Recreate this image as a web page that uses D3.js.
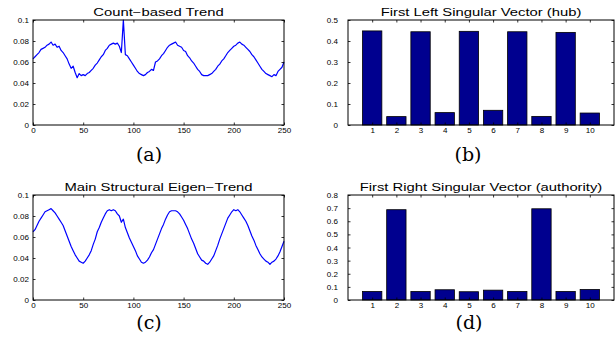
<!DOCTYPE html>
<html><head><meta charset="utf-8">
<script src="https://cdn.jsdelivr.net/npm/d3@7"></script>
<style>
html,body{margin:0;padding:0;background:#fff;}
svg{display:block;}
text{font-family:"Liberation Sans",Arial,Helvetica,sans-serif;fill:#000;}
.caption{font-family:"DejaVu Serif",serif;}
</style></head><body>
<svg id="fig" width="615" height="346"></svg>
<script>
// Sampled every 2 time steps, 0..250
const timeSteps = d3.range(0, 251, 2);

const countTrend = [
  0.063,0.065,0.067,0.069,0.072,0.073,0.074,0.076,0.077,0.079,
  0.076,0.077,0.074,0.075,0.071,0.069,0.066,0.063,0.058,0.054,
  0.056,0.050,0.045,0.049,0.047,0.048,0.047,0.049,0.050,0.052,
  0.054,0.057,0.059,0.062,0.065,0.067,0.071,0.073,0.076,0.077,
  0.078,0.077,0.078,0.075,0.069,0.100,0.067,0.066,0.063,0.060,
  0.057,0.054,0.051,0.049,0.048,0.047,0.048,0.050,0.051,0.053,
  0.052,0.060,0.061,0.063,0.066,0.068,0.071,0.074,0.076,0.077,
  0.078,0.079,0.076,0.075,0.074,0.071,0.070,0.066,0.064,0.061,
  0.059,0.056,0.053,0.051,0.048,0.047,0.047,0.047,0.048,0.049,
  0.051,0.053,0.056,0.058,0.061,0.063,0.066,0.069,0.071,0.073,
  0.075,0.076,0.078,0.079,0.077,0.076,0.074,0.072,0.070,0.067,
  0.065,0.062,0.059,0.056,0.053,0.051,0.049,0.048,0.047,0.046,
  0.048,0.047,0.051,0.053,0.055,0.060
];

const eigenTrend = [
  0.065,0.067,0.071,0.075,0.078,0.081,0.084,0.085,0.086,0.087,
  0.085,0.083,0.080,0.077,0.074,0.071,0.066,0.061,0.056,0.051,
  0.047,0.043,0.040,0.037,0.036,0.035,0.037,0.040,0.043,0.047,
  0.053,0.058,0.065,0.069,0.074,0.078,0.082,0.085,0.086,0.085,
  0.086,0.085,0.082,0.080,0.074,0.077,0.069,0.064,0.059,0.055,
  0.051,0.047,0.042,0.039,0.036,0.035,0.036,0.038,0.041,0.045,
  0.048,0.053,0.058,0.063,0.068,0.072,0.077,0.081,0.084,0.085,
  0.085,0.085,0.084,0.082,0.079,0.076,0.072,0.068,0.063,0.058,
  0.054,0.049,0.044,0.041,0.038,0.037,0.035,0.034,0.036,0.039,
  0.042,0.047,0.052,0.058,0.063,0.068,0.073,0.078,0.081,0.084,
  0.086,0.085,0.086,0.084,0.081,0.078,0.075,0.071,0.066,0.061,
  0.057,0.052,0.048,0.044,0.041,0.039,0.037,0.036,0.034,0.036,
  0.037,0.039,0.042,0.046,0.051,0.056
];

const nodeIds = [1,2,3,4,5,6,7,8,9,10];
const hubScores = [0.448,0.040,0.444,0.059,0.446,0.070,0.444,0.041,0.441,0.057];
const authorityScores = [0.065,0.688,0.065,0.078,0.063,0.075,0.065,0.695,0.065,0.080];

const trendXTicks = [0,50,100,150,200,250];
const trendYTicks = [0,0.02,0.04,0.06,0.08,0.1];
const hubYTicks = [0,0.1,0.2,0.3,0.4,0.5];
const authorityYTicks = [0,0.1,0.2,0.3,0.4,0.5,0.6,0.7,0.8];

const svg = d3.select("#fig");
const fmt = v => v === 0 ? "0" : String(+v.toFixed(2));
const TICK = 2.5, LABEL_SX = 1.15, TITLE_SX = 1.48;

function frame(g, box, x, y, xTicks, yTicks, xFmt, yPad) {
  const bottom = g.append("g").attr("transform", `translate(0,${box.b})`)
    .call(d3.axisBottom(x).tickValues(xTicks).tickSizeInner(-TICK).tickSizeOuter(0).tickPadding(3).tickFormat(xFmt));
  const left = g.append("g").attr("transform", `translate(${box.l},0)`)
    .call(d3.axisLeft(y).tickValues(yTicks).tickSizeInner(-TICK).tickSizeOuter(0).tickPadding(yPad).tickFormat(fmt));
  g.append("g").attr("transform", `translate(0,${box.t})`)
    .call(d3.axisTop(x).tickValues(xTicks).tickSizeInner(-TICK).tickSizeOuter(0).tickFormat(""));
  g.append("g").attr("transform", `translate(${box.r},0)`)
    .call(d3.axisRight(y).tickValues(yTicks).tickSizeInner(-TICK).tickSizeOuter(0).tickFormat(""));
  g.selectAll(".domain").remove();
  g.selectAll(".tick line").attr("stroke", "#000").attr("stroke-width", 0.8);
  g.selectAll(".tick text").attr("font-size", 7).attr("font-family", "Liberation Sans, Arial, sans-serif");
  bottom.selectAll(".tick text").attr("transform", `scale(${LABEL_SX},1)`);
  left.selectAll(".tick text").attr("transform", `scale(${LABEL_SX},1)`).attr("x", -yPad / LABEL_SX).attr("dy", "0.36em");
  g.append("rect").attr("x", box.l).attr("y", box.t)
    .attr("width", box.r - box.l).attr("height", box.b - box.t)
    .attr("fill", "none").attr("stroke", "#000").attr("stroke-width", 1);
}

function title(g, box, text, baseline) {
  g.append("text")
    .attr("transform", `translate(${(box.l + box.r) / 2},${baseline}) scale(${TITLE_SX},1)`)
    .attr("text-anchor", "middle").attr("font-size", 10).text(text);
}

function caption(text, cx, baseline) {
  svg.append("text").attr("class", "caption")
    .attr("x", cx).attr("y", baseline).attr("text-anchor", "middle")
    .attr("font-size", 19).text(text);
}

function trendPanel(box, series, name, cap) {
  const g = svg.append("g");
  const x = d3.scaleLinear().domain([0, 250]).range([box.l, box.r]);
  const y = d3.scaleLinear().domain([0, 0.1]).range([box.b, box.t]);
  g.append("path")
    .datum(series.map((v, i) => [timeSteps[i], v]))
    .attr("fill", "none").attr("stroke", "#0000ff").attr("stroke-width", 1.2)
    .attr("stroke-linejoin", "round")
    .attr("d", d3.line().x(d => x(d[0])).y(d => y(d[1])));
  frame(g, box, x, y, trendXTicks, trendYTicks, d3.format("d"), 4);
  title(g, box, name, box.t - 4.5);
  caption(cap.text, cap.x, cap.y);
}

function barPanel(box, scores, yTicks, yMax, name, cap) {
  const g = svg.append("g");
  const x = d3.scaleLinear().domain([0, 11]).range([box.l, box.r]);
  const y = d3.scaleLinear().domain([0, yMax]).range([box.b, box.t]);
  const w = 0.8;
  g.selectAll("rect.bar").data(nodeIds).join("rect").attr("class", "bar")
    .attr("x", d => x(d - w / 2)).attr("width", x(w) - x(0))
    .attr("y", (d, i) => y(scores[i])).attr("height", (d, i) => y(0) - y(scores[i]))
    .attr("fill", "#00008f").attr("stroke", "#000").attr("stroke-width", 0.8);
  frame(g, box, x, y, nodeIds, yTicks, d3.format("d"), 10);
  title(g, box, name, box.t - 4.5);
  caption(cap.text, cap.x, cap.y);
}

trendPanel({l: 33, r: 284, t: 20, b: 125}, countTrend, "Count\u2212based Trend", {text: "(a)", x: 149, y: 161});
barPanel({l: 348, r: 614, t: 20, b: 125}, hubScores, hubYTicks, 0.5, "First Left Singular Vector (hub)", {text: "(b)", x: 468, y: 161});
trendPanel({l: 33, r: 284, t: 195, b: 300}, eigenTrend, "Main Structural Eigen\u2212Trend", {text: "(c)", x: 149, y: 329});
barPanel({l: 348, r: 614, t: 195, b: 300}, authorityScores, authorityYTicks, 0.8, "First Right Singular Vector (authority)", {text: "(d)", x: 469, y: 329});
</script>
</body></html>
